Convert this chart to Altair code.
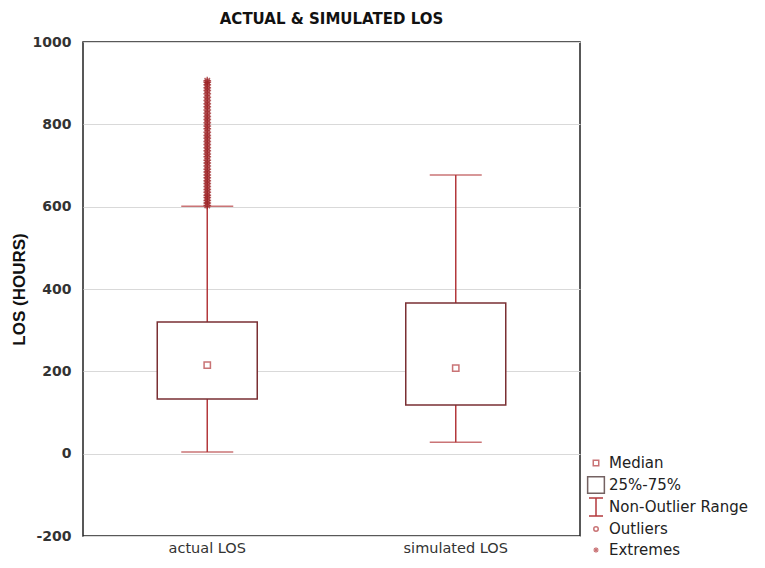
import altair as alt
import pandas as pd

categories = ["actual LOS", "simulated LOS"]
q1 = [133, 118]
q3 = [320, 366]
medians = [215, 208]
whisk_low = [4, 28]
whisk_high = [601, 677]
extreme_values = [603, 609, 615, 622, 628, 635, 642, 649, 656, 663, 670, 677, 684,
                  691, 699, 706, 713, 721, 728, 736, 743, 751, 758, 766, 773, 781,
                  789, 796, 804, 812, 819, 827, 835, 843, 850, 858, 866, 874, 882,
                  889, 896, 902, 906]

legend_labels = ["Median", "25%-75%", "Non-Outlier Range", "Outliers", "Extremes"]

FONT = "DejaVu Sans"
BOX = "#7a2f33"
RED = "#b3393c"

stats = pd.DataFrame({"cat": categories, "q1": q1, "q3": q3, "med": medians,
                      "lo": whisk_low, "hi": whisk_high})
ext = pd.DataFrame({"cat": [categories[0]] * len(extreme_values), "v": extreme_values})

x = alt.X("cat:N", sort=categories, title=None,
          scale=alt.Scale(paddingInner=0, paddingOuter=0),
          axis=alt.Axis(labelAngle=0, ticks=False, domain=False, labelFontSize=14.5,
                        labelColor="#333", labelFont=FONT, labelPadding=5))
yscale = alt.Scale(domain=[-200, 1000], nice=False, zero=False)
yaxis = alt.Axis(values=[-200, 0, 200, 400, 600, 800, 1000], ticks=False, domain=False,
                 labelExpr="'' + datum.value",
                 labelFontSize=14, labelFontWeight="bold", labelColor="#333",
                 labelFont=FONT, labelPadding=12, titleFontSize=17, titleFont="Liberation Sans",
                 titleFontWeight="bold", titleColor="#111", titlePadding=4,
                 gridColor="#d9d9d9", gridWidth=1)

base = alt.Chart(stats)

whisk = base.mark_rule(color=RED, strokeWidth=1.5).encode(
    x=x, y=alt.Y("lo:Q", scale=yscale, axis=yaxis, title="LOS (HOURS)"), y2="hi:Q")
caps_lo = base.mark_tick(color=RED, size=52, thickness=1.5, orient="horizontal").encode(
    x=x, y=alt.Y("lo:Q", scale=yscale))
caps_hi = base.mark_tick(color=RED, size=52, thickness=1.5, orient="horizontal").encode(
    x=x, y=alt.Y("hi:Q", scale=yscale))
box = base.mark_bar(size=100, fill="white", stroke=BOX, strokeWidth=1.5).encode(
    x=x, y=alt.Y("q1:Q", scale=yscale), y2="q3:Q")
med = base.mark_point(shape="square", size=40, filled=False, color=RED, strokeWidth=1.5).encode(
    x=x, y=alt.Y("med:Q", scale=yscale))

asterisk = "M-1,0L1,0M0,-1L0,1M-0.7,-0.7L0.7,0.7M-0.7,0.7L0.7,-0.7"
extremes = alt.Chart(ext).mark_point(shape=asterisk, size=60, filled=False,
                                     color="#9b1f22", strokeWidth=1.5).encode(
    x=x, y=alt.Y("v:Q", scale=yscale))

# Custom legend (outside plot area, lower right)
one = pd.DataFrame({"a": [0]})
lx = 513
ly = [421, 443, 465, 487, 508]
leg_layers = []
for lab, yy in zip(legend_labels, ly):
    leg_layers.append(alt.Chart(one).mark_text(align="left", baseline="middle", fontSize=15,
                                               font=FONT, color="#222").encode(
        x=alt.value(lx + 13), y=alt.value(yy), text=alt.value(lab)))
leg_med = alt.Chart(one).mark_point(shape="square", size=30, filled=False, color=RED,
                                    strokeWidth=1.5).encode(x=alt.value(lx), y=alt.value(ly[0]))
leg_box = alt.Chart(one).mark_point(shape="square", size=280, filled=False, color="#3a2020",
                                    strokeWidth=1.5).encode(x=alt.value(lx), y=alt.value(ly[1]))
leg_rule = alt.Chart(one).mark_rule(color=RED, strokeWidth=1.5).encode(
    x=alt.value(lx), y=alt.value(ly[2] - 9), y2=alt.value(ly[2] + 9))
leg_cap1 = alt.Chart(one).mark_rule(color=RED, strokeWidth=1.5).encode(
    x=alt.value(lx - 7), x2=alt.value(lx + 7), y=alt.value(ly[2] - 9))
leg_cap2 = alt.Chart(one).mark_rule(color=RED, strokeWidth=1.5).encode(
    x=alt.value(lx - 7), x2=alt.value(lx + 7), y=alt.value(ly[2] + 9))
leg_out = alt.Chart(one).mark_point(shape="circle", size=20, filled=False, color=RED,
                                    strokeWidth=1.5).encode(x=alt.value(lx), y=alt.value(ly[3]))
leg_ext = alt.Chart(one).mark_point(shape=asterisk, size=30, filled=False, color=RED,
                                    strokeWidth=1.2).encode(x=alt.value(lx), y=alt.value(ly[4]))

chart = alt.layer(whisk, caps_lo, caps_hi, box, med, extremes,
                  leg_med, leg_box, leg_rule, leg_cap1, leg_cap2, leg_out, leg_ext,
                  *leg_layers).properties(
    width=497, height=494,
    title=alt.TitleParams("ACTUAL & SIMULATED LOS", fontSize=15, font=FONT,
                          fontWeight="bold", color="#111", offset=8, anchor="middle"),
    padding={"left": 75, "top": 34, "right": 177, "bottom": 24},
    autosize=alt.AutoSizeParams(type="none"),
).configure_view(stroke="#222", strokeWidth=1.5)

chart.save("out.html", embed_options={"renderer": "svg", "actions": False})
